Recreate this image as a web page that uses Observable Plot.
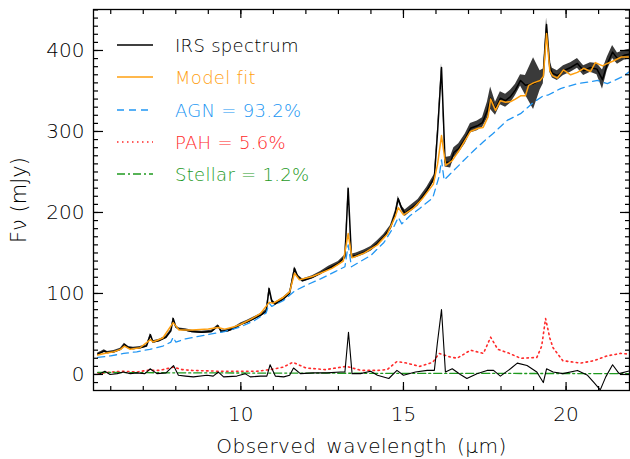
<!DOCTYPE html>
<html><head><meta charset="utf-8">
<script src="https://cdn.jsdelivr.net/npm/d3@7"></script>
<script src="https://cdn.jsdelivr.net/npm/@observablehq/plot@0.6"></script>
<style>
body{margin:0;background:#fff;}
#wrap{position:relative;width:630px;height:459px;font-family:"DejaVu Sans",sans-serif;font-weight:200;}
#wrap svg text{font-weight:200;}
#wrap svg g[aria-label="x-axis label"] text{letter-spacing:0.5px;word-spacing:3px;}
.row{position:absolute;display:flex;align-items:center;font-size:18px;white-space:nowrap;height:24px;letter-spacing:0.3px;}
.row svg{margin-right:22px;}
</style></head><body><div id="wrap"></div>
<script>
// ---- Data ----
const specWl = [5.6,5.7,5.8,5.9,6.1,6.3,6.42,6.55,6.7,6.9,7.1,7.22,7.3,7.5,7.7,7.85,7.92,8.0,8.1,8.3,8.5,8.8,9.1,9.3,9.4,9.6,9.8,10.0,10.2,10.4,10.6,10.78,10.87,10.95,11.05,11.3,11.5,11.65,11.75,11.9,12.2,12.45,12.7,13.0,13.2,13.3,13.4,13.55,13.8,14.0,14.2,14.4,14.6,14.75,14.84,14.95,15.05,15.2,15.45,15.72,15.95,16.05,16.17,16.28,16.45,16.55,16.7,16.9,17.06,17.27,17.43,17.58,17.68,17.83,17.98,18.14,18.29,18.44,18.6,18.75,19.0,19.2,19.3,19.4,19.5,19.58,19.73,19.92,20.14,20.35,20.54,20.75,20.95,21.12,21.27,21.43,21.58,21.78,22.0];
const specFlux = [25,27,29,27,28,31,37,33,32,33,35,49,40,42,46,54,69,59,56,55,53,52,53,60,53,54,57,62,65,69,73,78,106,91,87,93,100,131,121,116,120,125,131,137,145,230,146,147,151,155,162,170,181,199,217,205,199,204,212,227,243,300,379,262,262,274,279,291,304,307,311,326,341,328,341,338,343,351,363,357,359,363,368,432,380,372,369,375,379,384,375,379,377,364,384,398,390,394,396];
const specErr = [1.5,1.5,1.5,1.5,1.5,1.5,1.5,1.5,1.5,1.5,1.5,1.5,1.5,1.5,1.5,1.5,1.5,1.5,1.5,1.5,1.5,1.5,1.5,1.5,1.5,1.5,1.5,1.5,2,2,2,2,2,2,2,2,2,2,2,2,2,2,2.5,2.5,2.5,2.5,2.5,3,3,3,3,3,3,3,3,3,4,4,4,4,4,4,5,6,7,6,6,6,6,6,6,10,14,8,8,8,8,7,7,12,32,12,9,8,7,6,6,6,6,6,6,6,7,12,8,8,7,6,6];

const modelWl = [5.6,5.8,6.1,6.3,6.42,6.6,6.9,7.22,7.3,7.6,7.92,8.1,8.5,9.0,9.3,9.5,9.8,10.0,10.3,10.6,10.87,11.0,11.3,11.5,11.65,11.8,12.2,12.45,12.8,13.15,13.3,13.42,13.8,14.2,14.5,14.75,14.84,15.0,15.3,15.6,15.92,16.05,16.17,16.3,16.5,16.75,17.06,17.3,17.45,17.6,17.68,17.83,17.98,18.14,18.3,18.44,18.6,18.75,18.85,19.0,19.2,19.3,19.4,19.5,19.58,19.73,19.92,20.14,20.35,20.54,20.75,20.9,21.12,21.27,21.45,21.7,22.0];
const modelFlux = [24,26,28,31,35,31,33,43,40,45,64,55,55,56,58,56,59,62,68,75,89,88,95,102,125,117,121,125,131,140,174,144,150,160,173,195,206,197,205,218,235,260,295,258,264,279,300,304,305,318,340,326,338,336,337,340,344,344,357,360,363,368,421,375,369,366,376,370,373,378,374,385,381,384,387,392,392];

const agnWl = [5.6,6.0,6.4,6.8,7.2,7.6,7.85,7.92,8.0,8.3,8.7,9.1,9.5,10.0,10.4,10.78,10.87,10.95,11.3,11.65,12.0,12.45,12.9,13.2,13.3,13.4,13.7,14.0,14.4,14.7,14.84,14.95,15.2,15.5,15.9,16.1,16.17,16.25,16.4,16.75,17.15,17.45,17.74,18.2,18.6,19.0,19.3,19.45,19.83,20.35,20.97,21.27,21.7,22.0];
const agnFlux = [21,23,26,28,31,35,40,46,40,44,47,50,53,59,66,76,88,84,91,103,110,118,127,133,160,133,140,147,163,182,194,186,196,205,218,245,265,240,246,260,276,287,297,314,322,336,344,345,353,359,363,359,367,375];

const pahWl = [5.6,5.67,6.0,6.4,6.8,7.1,7.5,7.92,8.2,8.5,9.3,10.0,10.5,10.9,11.3,11.6,12.0,12.6,13.25,13.7,14.2,14.5,14.8,15.1,15.5,15.9,16.1,16.4,16.65,17.06,17.46,17.68,17.9,18.2,18.6,19.1,19.25,19.37,19.5,19.6,19.9,20.45,20.85,21.27,21.68,22.0];
const pahFlux = [2,1,3,4,3,5,5,9,6,5,4,4,4,6,9,15,8,6,10,5,5,6,16,14,10,15,26,22,20,30,26,46,31,27,20,21,35,69,45,33,17,14,17,23,26,25];

const stellarWl = [5.6,8.0,12.0,16.0,22.0];
const stellarFlux = [2.5,2,1.6,1.3,1.1];

const residWl = [5.6,5.67,5.82,5.98,6.2,6.39,6.6,6.8,7.05,7.21,7.42,7.7,7.93,8.08,8.3,8.54,8.96,9.15,9.31,9.47,9.88,10.13,10.29,10.6,10.8,10.9,11.06,11.32,11.5,11.62,11.83,12.24,12.65,13.06,13.2,13.31,13.42,13.68,13.99,14.2,14.55,14.8,15.0,15.37,15.73,15.95,16.04,16.17,16.29,16.5,16.75,16.95,17.26,17.57,17.77,17.98,18.29,18.5,18.8,19.1,19.3,19.4,19.6,19.9,20.35,20.66,20.86,21.05,21.22,21.43,21.63,22.0];
const residFlux = [0,1,4,0,1,3,1,2,1,7,1,2,11,-1,-2,-3,-1,-2,3,-3,-2,1,-3,-2,-2,12,-2,-3,-1,8,1,2,2,3,3,52,1,1,4,-1,-5,5,-1,3,5,5,38,80,3,7,0,-5,1,5,5,-2,7,14,11,3,-10,7,3,1,5,-1,-10,-19,-3,12,1,5];

const legendLabels = ["IRS spectrum","Model fit","AGN = 93.2%","PAH = 5.6%","Stellar = 1.2%"];
const legendColors = ["#000000","#ffa010","#2196f3","#ff2a2a","#1f9a1f"];
const legendDash = ["none","none","7,5","1.5,3.5","8,3,2,3"];

const xMajor = [10,15,20];
const xMinor = d3.range(6,22,1);
const yMajor = [0,100,200,300,400];
const yMinor = d3.range(-10,451,10);

// ---- Build tables ----
const spec = specWl.map((x,i)=>({x, y:specFlux[i], lo:specFlux[i]-specErr[i], hi:specFlux[i]+specErr[i]}));
const model = modelWl.map((x,i)=>({x, y:modelFlux[i]}));
const agn = agnWl.map((x,i)=>({x, y:agnFlux[i]}));
const pah = pahWl.map((x,i)=>({x, y:pahFlux[i]}));
const stellar = stellarWl.map((x,i)=>({x, y:stellarFlux[i]}));
const resid = residWl.map((x,i)=>({x, y:residFlux[i]}));

const tk = {stroke:"black", strokeWidth:1.2, fill:"none", label:null};
const chart = Plot.plot({
  width:630, height:459, marginLeft:93, marginRight:1, marginTop:9, marginBottom:69,
  x:{domain:[5.47,21.95]}, y:{domain:[-19.8,450.6]},
  style:{fontFamily:"'DejaVu Sans', sans-serif", fontSize:"20px", color:"black", background:"white"},
  marks:[
    Plot.areaY(spec,{x:"x",y1:"lo",y2:"hi",fill:"#3a3a3a",clip:true}),
    Plot.line(spec,{x:"x",y:"y",stroke:"black",strokeWidth:1.5,clip:true}),
    Plot.line(agn,{x:"x",y:"y",stroke:legendColors[2],strokeWidth:1.3,strokeDasharray:legendDash[2],clip:true}),
    Plot.line(model,{x:"x",y:"y",stroke:legendColors[1],strokeWidth:1.5,clip:true}),
    Plot.line(pah,{x:"x",y:"y",stroke:legendColors[3],strokeWidth:1.6,strokeDasharray:legendDash[3],clip:true}),
    Plot.line(stellar,{x:"x",y:"y",stroke:legendColors[4],strokeWidth:1.3,strokeDasharray:legendDash[4],clip:true}),
    Plot.line(resid,{x:"x",y:"y",stroke:"black",strokeWidth:1.1,clip:true}),
    Plot.frame({stroke:"black",strokeWidth:1.3}),
    Plot.axisX({...tk, anchor:"bottom", ticks:xMajor, tickSize:-8}),
    Plot.axisX({...tk, anchor:"bottom", ticks:xMinor, tickSize:-4}),
    Plot.axisX({...tk, anchor:"top", ticks:xMajor, tickSize:-8}),
    Plot.axisX({...tk, anchor:"top", ticks:xMinor, tickSize:-4}),
    Plot.axisY({...tk, anchor:"left", ticks:yMajor, tickSize:-10}),
    Plot.axisY({...tk, anchor:"left", ticks:yMinor, tickSize:-5}),
    Plot.axisY({...tk, anchor:"right", ticks:yMajor, tickSize:-10}),
    Plot.axisY({...tk, anchor:"right", ticks:yMinor, tickSize:-5}),
    Plot.axisX({anchor:"bottom", ticks:xMajor, tickSize:0, tickPadding:16, fontSize:20,
      label:"Observed wavelength (μm)", labelAnchor:"center", labelArrow:"none", labelOffset:62}),
    Plot.axisY({anchor:"left", ticks:yMajor, tickSize:0, tickPadding:9, fontSize:20, label:null}),
    Plot.axisY({anchor:"left", ticks:[], tickSize:0, fontSize:21,
      label:"Fν (mJy)", labelAnchor:"center", labelArrow:"none", labelOffset:82})
  ]
});
const wrap = document.getElementById("wrap");
wrap.appendChild(chart);

// ---- Legend (HTML overlay) ----
const rowsY = [45,77,110,142,174];
legendLabels.forEach((lab,i)=>{
  const row = document.createElement("div");
  row.className = "row";
  row.style.left = "117px";
  row.style.top = (rowsY[i]-12)+"px";
  row.style.color = legendColors[i];
  const dash = legendDash[i]==="none" ? "" : `stroke-dasharray="${legendDash[i]}"`;
  row.innerHTML = `<svg width="36" height="24"><line x1="0" x2="36" y1="12" y2="12" stroke="${legendColors[i]}" stroke-width="1.5" ${dash}/></svg><span>${lab}</span>`;
  wrap.appendChild(row);
});
</script></body></html>
